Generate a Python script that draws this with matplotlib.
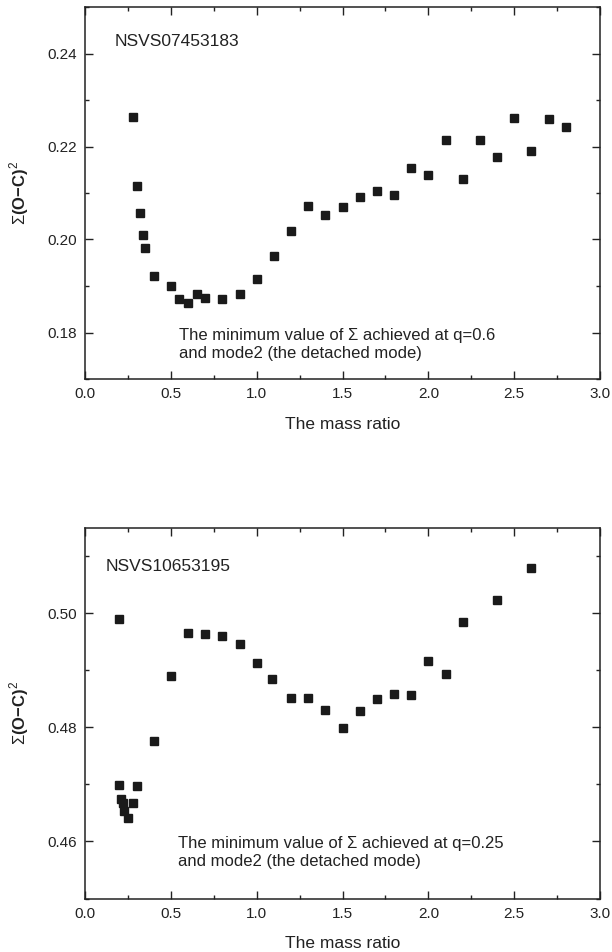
import matplotlib
matplotlib.use("Agg")
import matplotlib.pyplot as plt
from matplotlib.ticker import MultipleLocator, FormatStrFormatter

plt.rcParams['font.family'] = ['Liberation Sans', 'DejaVu Sans']
plt.rcParams['mathtext.fontset'] = 'custom'
plt.rcParams['mathtext.rm'] = 'Liberation Sans'
plt.rcParams['mathtext.bf'] = 'Liberation Sans:bold'

# NSVS07453183
q_top = [0.28, 0.30, 0.32, 0.34, 0.35, 0.4, 0.5, 0.55, 0.6, 0.65, 0.7, 0.8, 0.9,
         1.0, 1.1, 1.2, 1.3, 1.4, 1.5, 1.6, 1.7, 1.8, 1.9, 2.0, 2.1, 2.2, 2.3,
         2.4, 2.5, 2.6, 2.7, 2.8]
s_top = [0.2263, 0.2116, 0.2057, 0.2010, 0.1982, 0.1921, 0.1900, 0.1871, 0.1864,
         0.1882, 0.1874, 0.1873, 0.1882, 0.1916, 0.1965, 0.2018, 0.2071, 0.2053,
         0.2069, 0.2091, 0.2104, 0.2095, 0.2153, 0.2139, 0.2215, 0.2131, 0.2215,
         0.2177, 0.2261, 0.2191, 0.2260, 0.2243]

# NSVS10653195
q_bot = [0.2, 0.2, 0.21, 0.22, 0.23, 0.25, 0.28, 0.30, 0.4, 0.5, 0.6, 0.7, 0.8,
         0.9, 1.0, 1.09, 1.2, 1.3, 1.4, 1.5, 1.6, 1.7, 1.8, 1.9, 2.0, 2.1, 2.2,
         2.4, 2.6]
s_bot = [0.4990, 0.4699, 0.4675, 0.4667, 0.4654, 0.4641, 0.4668, 0.4698, 0.4776,
         0.4890, 0.4966, 0.4964, 0.4960, 0.4947, 0.4912, 0.4884, 0.4851, 0.4852,
         0.4831, 0.4799, 0.4828, 0.4849, 0.4859, 0.4857, 0.4917, 0.4893, 0.4985,
         0.5023, 0.5079]

star_top = "NSVS07453183"
star_bot = "NSVS10653195"
note_top = "The minimum value of \u03a3 achieved at q=0.6\nand mode2 (the detached mode)"
note_bot = "The minimum value of \u03a3 achieved at q=0.25\nand mode2 (the detached mode)"

fig = plt.figure(figsize=(6.12, 9.52), dpi=100)
ax1 = fig.add_axes([85/612, 1-379/952, 515/612, 372/952])
ax2 = fig.add_axes([85/612, 1-898.5/952, 515/612, 370.8/952])

tc = '#222222'


def style(ax, ylo, yhi, ymaj, ymin):
    ax.set_xlim(0, 3.0)
    ax.set_ylim(ylo, yhi)
    ax.xaxis.set_major_locator(MultipleLocator(0.5))
    ax.xaxis.set_minor_locator(MultipleLocator(0.25))
    ax.yaxis.set_major_locator(MultipleLocator(ymaj))
    ax.yaxis.set_minor_locator(MultipleLocator(ymin))
    ax.yaxis.set_major_formatter(FormatStrFormatter('%.2f'))
    ax.tick_params(which='both', direction='in', top=True, right=True,
                   colors=tc, labelsize=11, width=1.0, pad=6)
    ax.tick_params(which='major', length=5.5)
    ax.tick_params(which='minor', length=3)
    for sp in ax.spines.values():
        sp.set_linewidth(1.1)
        sp.set_color(tc)
    ax.set_xlabel("The mass ratio", fontsize=12.5, color=tc, labelpad=11)
    ax.set_ylabel(r'$\Sigma\mathbf{(O{-}C)}^{2}$', fontsize=12, color=tc)
    ax.yaxis.set_label_coords(-0.105, 0.5)


ax1.plot(q_top, s_top, 's', color='#1a1a1a', markersize=6, linestyle='none')
style(ax1, 0.17, 0.25, 0.02, 0.01)
ax1.text(0.173, 0.2425, star_top, fontsize=12.5, color=tc, va='center')
ax1.text(0.548, 0.1774, note_top, fontsize=12, color=tc, va='center',
         linespacing=1.25)

ax2.plot(q_bot, s_bot, 's', color='#1a1a1a', markersize=6, linestyle='none')
style(ax2, 0.45, 0.515, 0.02, 0.01)
ax2.text(0.12, 0.5082, star_bot, fontsize=12.5, color=tc, va='center')
ax2.text(0.54, 0.458, note_bot, fontsize=12, color=tc, va='center',
         linespacing=1.25)

fig.savefig("out.png", dpi=100)
